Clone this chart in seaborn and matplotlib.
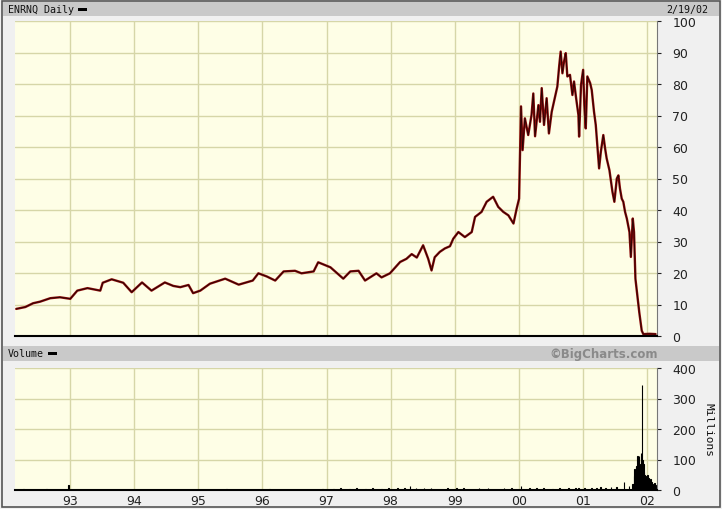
import matplotlib
matplotlib.use("Agg")
import matplotlib.pyplot as plt
from matplotlib.patches import Rectangle
import seaborn as sns
import pandas as pd

# ---------------- data ----------------
price_dates = [
    "1992-02-28", "1992-04-20", "1992-06-03", "1992-07-13", "1992-09-09", "1992-11-03",
    "1993-01-01", "1993-02-10", "1993-04-09", "1993-06-21", "1993-07-05", "1993-08-25",
    "1993-10-30", "1993-12-17", "1994-02-14", "1994-04-09", "1994-06-24", "1994-08-11",
    "1994-09-20", "1994-11-06", "1994-12-02", "1995-01-12", "1995-03-08", "1995-06-03",
    "1995-08-19", "1995-11-07", "1995-12-09", "1996-01-26", "1996-03-14", "1996-05-01",
    "1996-07-05", "1996-08-11", "1996-10-19", "1996-11-14", "1997-01-23", "1997-04-06",
    "1997-05-16", "1997-07-02", "1997-08-08", "1997-10-12", "1997-11-10", "1997-12-28",
    "1998-02-24", "1998-04-01", "1998-05-01", "1998-05-30", "1998-07-05", "1998-08-03",
    "1998-08-22", "1998-09-09", "1998-10-08", "1998-11-06", "1998-12-05", "1998-12-24",
    "1999-01-22", "1999-02-28", "1999-04-08", "1999-04-27", "1999-06-03", "1999-07-02",
    "1999-08-08", "1999-09-06", "1999-10-05", "1999-11-03", "1999-12-02", "1999-12-20",
    "2000-01-03", "2000-01-14", "2000-01-23", "2000-02-05", "2000-02-24", "2000-03-14",
    "2000-03-24", "2000-04-03", "2000-04-22", "2000-05-01", "2000-05-11", "2000-05-24",
    "2000-06-08", "2000-06-21", "2000-07-07", "2000-07-20", "2000-08-08", "2000-08-19",
    "2000-08-27", "2000-09-06", "2000-09-15", "2000-09-25", "2000-10-04", "2000-10-19",
    "2000-11-02", "2000-11-11", "2000-11-23", "2000-12-06", "2000-12-10", "2000-12-21",
    "2001-01-02", "2001-01-09", "2001-01-17", "2001-01-26", "2001-02-11", "2001-02-20",
    "2001-03-05", "2001-03-15", "2001-03-24", "2001-04-03", "2001-04-13", "2001-04-27",
    "2001-05-07", "2001-05-16", "2001-06-01", "2001-06-18", "2001-06-29", "2001-07-13",
    "2001-07-22", "2001-07-31", "2001-08-10", "2001-08-19", "2001-08-29", "2001-09-08",
    "2001-09-23", "2001-10-01", "2001-10-12", "2001-10-19", "2001-10-27", "2001-11-07",
    "2001-11-18", "2001-12-02", "2001-12-11", "2002-01-15", "2002-02-19",
]
price_close = [
    8.6, 9.2, 10.4, 10.9, 12.0, 12.3,
    11.8, 14.4, 15.2, 14.4, 16.9, 18.0,
    16.9, 13.9, 17.0, 14.4, 17.0, 15.9,
    15.5, 16.2, 13.6, 14.4, 16.6, 18.2,
    16.3, 17.6, 19.9, 18.9, 17.6, 20.5,
    20.7, 19.9, 20.5, 23.4, 21.8, 18.2,
    20.5, 20.7, 17.6, 19.9, 18.6, 19.9,
    23.5, 24.5, 26.0, 24.9, 28.8, 24.5,
    20.8, 25.0, 26.7, 27.8, 28.5, 30.9,
    33.0, 31.4, 33.0, 37.8, 39.4, 42.6,
    44.2, 41.0, 39.4, 38.3, 35.7, 40.4,
    43.6, 72.9, 59.0, 69.1, 63.8, 70.2,
    77.0, 63.4, 73.3, 68.0, 78.7, 67.0,
    75.5, 64.3, 71.2, 74.4, 79.2, 86.0,
    90.3, 83.4, 87.1, 89.8, 82.4, 82.9,
    76.5, 80.8, 75.5, 70.2, 63.3, 79.7,
    84.5, 73.3, 65.9, 82.4, 80.3, 78.1,
    71.2, 67.0, 60.6, 53.2, 58.5, 63.8,
    59.6, 56.4, 52.6, 45.8, 42.6, 50.0,
    51.0, 46.8, 43.6, 42.6, 39.4, 37.3,
    33.0, 25.1, 37.3, 33.0, 18.2, 12.8,
    7.5, 1.7, 0.6, 0.7, 0.6,
]

volume_dates = [
    "1992-04-10", "1992-08-20", "1992-12-22", "1993-03-15", "1993-08-10",
    "1993-12-20", "1995-06-10", "1996-02-10", "1996-07-10", "1996-12-10",
    "1997-02-10", "1997-03-20", "1997-05-10", "1997-06-20", "1997-08-10",
    "1997-09-20", "1997-11-10", "1997-12-20", "1998-02-10", "1998-03-20",
    "1998-04-20", "1998-05-25", "1998-07-10", "1998-08-20", "1998-10-10",
    "1998-11-20", "1999-01-10", "1999-02-20", "1999-04-10", "1999-05-20",
    "1999-07-10", "1999-08-20", "1999-10-10", "1999-11-20", "2000-01-15",
    "2000-03-01", "2000-04-10", "2000-05-20", "2000-07-10", "2000-08-20",
    "2000-10-10", "2000-11-20", "2000-12-08", "2001-01-10", "2001-02-20",
    "2001-03-20", "2001-04-10", "2001-05-10", "2001-06-10", "2001-07-10",
    "2001-08-22", "2001-09-20", "2001-10-10", "2001-10-17", "2001-10-19",
    "2001-10-23", "2001-10-25", "2001-10-29", "2001-10-31", "2001-11-02",
    "2001-11-06", "2001-11-08", "2001-11-12", "2001-11-14", "2001-11-16",
    "2001-11-20", "2001-11-26", "2001-11-29", "2001-12-03", "2001-12-05",
    "2001-12-07", "2001-12-11", "2001-12-13", "2001-12-17", "2001-12-20",
    "2001-12-24", "2001-12-28", "2002-01-03", "2002-01-08", "2002-01-11",
    "2002-01-16", "2002-01-22", "2002-01-28", "2002-02-01", "2002-02-06",
    "2002-02-12", "2002-02-19",
]
volume_millions = [
    3, 3, 16, 4, 3,
    4, 2, 2, 3, 4,
    4, 5, 3, 5, 4,
    6, 4, 5, 6, 5,
    13, 8, 5, 6, 4,
    6, 5, 6, 4, 5,
    6, 4, 5, 6, 13,
    6, 5, 6, 4, 6,
    7, 6, 8, 8, 7,
    8, 10, 8, 9, 10,
    27, 12, 20, 20, 45,
    70, 50, 75, 60, 80,
    55, 112, 65, 100, 110,
    70, 85, 120, 345, 100,
    70, 85, 60, 50, 47,
    35, 45, 49, 30, 40,
    25, 35, 26, 20, 18,
    22, 15,
]

price_ticks = [0, 10, 20, 30, 40, 50, 60, 70, 80, 90, 100]
volume_ticks = [0, 100, 200, 300, 400]
year_ticks = ["1993", "1994", "1995", "1996", "1997", "1998", "1999", "2000", "2001", "2002"]
year_labels = ["93", "94", "95", "96", "97", "98", "99", "00", "01", "02"]

# ---------------- styling ----------------
sns.set_style("white")
plt.rcParams["font.family"] = ["DejaVu Sans"]

BG = "#f0f0f0"
PANEL = "#fefee6"
GRID = "#d6d6a8"
HEADER = "#c9c9c9"
TICKC = "#222222"

price_df = pd.DataFrame({"date": pd.to_datetime(price_dates), "close": price_close})
vol_df = pd.DataFrame({"date": pd.to_datetime(volume_dates), "volume": volume_millions})

W, H = 722, 510
fig = plt.figure(figsize=(W / 100, H / 100), dpi=100, facecolor=BG)

def fx(px):
    return px / W

def fy(py):
    return 1 - py / H

# outer frame
fig.add_artist(Rectangle((fx(2), fy(508)), fx(718), 506 / H, transform=fig.transFigure,
                         fill=False, edgecolor="#555555", linewidth=1.2))
# header bars
fig.add_artist(Rectangle((fx(3), fy(17)), fx(716), 14 / H, transform=fig.transFigure,
                         facecolor=HEADER, edgecolor="none"))
fig.add_artist(Rectangle((fx(3), fy(362)), fx(716), 15 / H, transform=fig.transFigure,
                         facecolor=HEADER, edgecolor="none"))

mono = "DejaVu Sans Mono"
t1 = fig.text(fx(8), fy(10), "ENRNQ Daily", family=mono, fontsize=7.2, va="center", ha="left", color="#111111")
fig.text(fx(708), fy(10), "2/19/02", family=mono, fontsize=7.2, va="center", ha="right", color="#111111")
t2 = fig.text(fx(8), fy(354.5), "Volume", family=mono, fontsize=7.2, va="center", ha="left", color="#111111")
fig.text(fx(658), fy(354.5), "\u00a9BigCharts.com", fontsize=8.5, fontweight="bold",
         va="center", ha="right", color="#8a8a8a")

# small black legend swatches just after the header texts
renderer = fig.canvas.get_renderer()
for t, ymid in ((t1, 10), (t2, 354.5)):
    bb = t.get_window_extent(renderer=renderer)
    fig.add_artist(Rectangle(((bb.x1 + 4) / W, fy(ymid + 1.5)), 9 / W, 3 / H,
                             transform=fig.transFigure, facecolor="black", edgecolor="none"))

x0 = pd.Timestamp("1992-02-21")
x1 = pd.Timestamp("2002-02-27")
yt = pd.to_datetime(year_ticks)

# ---------------- price panel ----------------
ax = fig.add_axes([fx(15), fy(337), fx(642), 315 / H], facecolor=PANEL)
sns.lineplot(data=price_df, x="date", y="close", ax=ax, color="#8b0a0a", linewidth=1.7)
sns.lineplot(data=price_df, x="date", y="close", ax=ax, color="black", linewidth=0.6, alpha=0.75)
ax.set_xlim(x0, x1)
ax.set_ylim(0, 100)
ax.set_yticks(price_ticks)
ax.set_xticks(yt)
ax.set_xticklabels([])
ax.grid(True, color=GRID, linewidth=1)
ax.set_axisbelow(True)
ax.yaxis.tick_right()
ax.tick_params(axis="y", labelsize=9, colors=TICKC, length=3, pad=8, direction="out")
ax.tick_params(axis="x", length=0)
ax.set_xlabel("")
ax.set_ylabel("")
for s in ["top", "left"]:
    ax.spines[s].set_visible(False)
ax.spines["right"].set_color("#777777")
ax.spines["bottom"].set_color("black")
ax.spines["bottom"].set_linewidth(1.5)

# ---------------- volume panel ----------------
axv = fig.add_axes([fx(15), fy(491), fx(642), 122 / H], facecolor=PANEL)
axv.bar(vol_df["date"], vol_df["volume"], width=3, color="black", linewidth=0.8, edgecolor="black")
axv.set_xlim(x0, x1)
axv.set_ylim(0, 400)
axv.set_yticks(volume_ticks)
axv.set_xticks(yt)
axv.set_xticklabels(year_labels)
axv.grid(True, color=GRID, linewidth=1)
axv.set_axisbelow(True)
axv.yaxis.tick_right()
axv.tick_params(axis="y", labelsize=9, colors=TICKC, length=3, pad=8, direction="out")
axv.tick_params(axis="x", labelsize=9, colors=TICKC, length=0, pad=3)
for s in ["top", "left"]:
    axv.spines[s].set_visible(False)
axv.spines["right"].set_color("#777777")
axv.spines["bottom"].set_color("black")
axv.spines["bottom"].set_linewidth(1.5)
fig.text(fx(709), fy(430), "Millions", family=mono, fontsize=8, rotation=270,
         va="center", ha="center", color="#111111")

fig.savefig("out.png", dpi=100, facecolor=BG)
